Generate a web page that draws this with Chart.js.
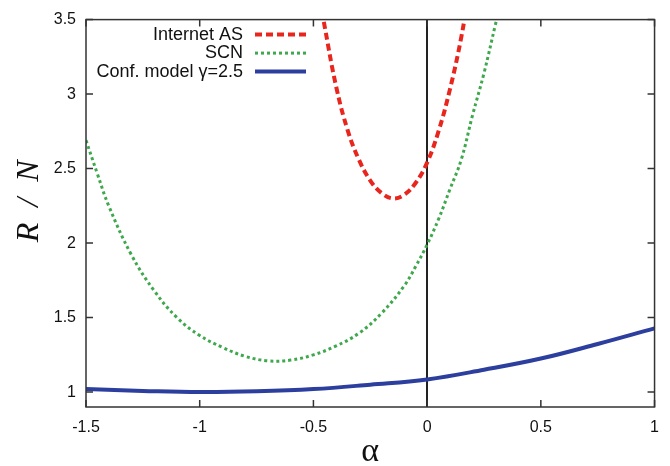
<!DOCTYPE html>
<html>
<head>
<meta charset="utf-8">
<script src="https://cdn.jsdelivr.net/npm/chart.js@4"></script>
<style>
  body { margin: 0; background: #fff; }
</style>
</head>
<body>
<canvas id="grafico" width="670" height="466"></canvas>
<script>
// values
var asAlpha = [-0.47, -0.45, -0.40, -0.35, -0.30, -0.25, -0.20, -0.15, -0.10, -0.05, 0.00, 0.05, 0.10, 0.15, 0.18];
var asValues = [3.63, 3.45, 3.05, 2.76, 2.56, 2.42, 2.335, 2.30, 2.325, 2.405, 2.54, 2.75, 3.03, 3.38, 3.66];

var scnAlpha = [-1.5, -1.45, -1.4, -1.3, -1.2, -1.1, -1.0, -0.9, -0.8, -0.7, -0.6, -0.5, -0.4, -0.3, -0.2, -0.1, -0.05, 0, 0.05, 0.1, 0.15, 0.2, 0.25, 0.3, 0.32];
var scnValues = [2.69, 2.465, 2.25, 1.92, 1.68, 1.50, 1.38, 1.30, 1.24, 1.21, 1.215, 1.25, 1.31, 1.395, 1.53, 1.715, 1.845, 1.99, 2.16, 2.36, 2.56, 2.86, 3.14, 3.465, 3.59];

var confAlpha = [-1.5, -1.25, -1.0, -0.75, -0.5, -0.25, 0, 0.25, 0.5, 0.75, 1.0];
var confValues = [1.02, 1.008, 1.0, 1.005, 1.02, 1.05, 1.085, 1.15, 1.225, 1.323, 1.428];

var seriesLabels = ["Internet AS", "SCN", "Conf. model \u03b3=2.5"];
var xTicks = [-1.5, -1, -0.5, 0, 0.5, 1];
var yTicks = [1, 1.5, 2, 2.5, 3, 3.5];

function pts(xs, ys) {
    return xs.map(function (x, i) { return { x: x, y: ys[i] }; });
}

var data = {
    datasets: [{
        label: seriesLabels[0],
        data: pts(asAlpha, asValues),
        borderColor: "#e8261d",
        borderWidth: 4,
        borderDash: [7, 4],
        tension: 0.4
    }, {
        label: seriesLabels[1],
        data: pts(scnAlpha, scnValues),
        borderColor: "#3ea84c",
        borderWidth: 3,
        borderDash: [3, 3],
        tension: 0.4
    }, {
        label: seriesLabels[2],
        data: pts(confAlpha, confValues),
        borderColor: "#2c3f9e",
        borderWidth: 4,
        tension: 0.4
    }]
};

// gnuplot look: closed frame, inward ticks on all four sides, key at top left
var framePlugin = {
    id: "frame",
    afterDatasetsDraw: function (chart) {
        var c = chart.ctx, a = chart.chartArea;
        var xs = chart.scales.x, ys = chart.scales.y;
        c.save();
        c.strokeStyle = "#333";
        c.lineWidth = 1.5;
        c.beginPath();
        xs.ticks.forEach(function (t) {
            var px = xs.getPixelForValue(t.value);
            c.moveTo(px, a.bottom); c.lineTo(px, a.bottom - 7);
            c.moveTo(px, a.top); c.lineTo(px, a.top + 7);
        });
        ys.ticks.forEach(function (t) {
            var py = ys.getPixelForValue(t.value);
            c.moveTo(a.left, py); c.lineTo(a.left + 7, py);
            c.moveTo(a.right, py); c.lineTo(a.right - 7, py);
        });
        c.stroke();
        c.strokeRect(a.left, a.top, a.right - a.left, a.bottom - a.top);

        // key
        c.font = "18px 'Liberation Sans', Arial, sans-serif";
        c.textAlign = "right";
        c.textBaseline = "middle";
        chart.data.datasets.forEach(function (ds, i) {
            var y = a.top + 15 + i * 18.5;
            c.fillStyle = "#111";
            c.fillText(ds.label, 243, y);
            c.strokeStyle = ds.borderColor;
            c.lineWidth = ds.borderWidth;
            c.setLineDash(ds.borderDash || []);
            c.beginPath();
            c.moveTo(255, y); c.lineTo(306, y);
            c.stroke();
            c.setLineDash([]);
        });
        c.restore();
    }
};

var tickFont = { family: "'Liberation Sans', Arial, sans-serif", size: 16 };

var options = {
    responsive: false,
    animation: false,
    devicePixelRatio: 1,
    layout: { padding: { top: 16, right: 14, left: 0, bottom: 0 } },
    elements: { point: { radius: 0 } },
    plugins: { legend: { display: false }, tooltip: { enabled: false } },
    scales: {
        x: {
            type: "linear",
            min: -1.5,
            max: 1,
            afterBuildTicks: function (s) { s.ticks = xTicks.map(function (v) { return { value: v }; }); },
            afterFit: function (s) { s.height = 59; },
            border: { display: false },
            grid: {
                drawTicks: false,
                lineWidth: 2,
                color: function (ctx) { return ctx.tick && ctx.tick.value === 0 ? "#222" : "rgba(0,0,0,0)"; }
            },
            ticks: { font: tickFont, color: "#111", padding: 11, maxRotation: 0, callback: function (v) { return String(v); } },
            title: {
                display: true,
                text: "\u03b1",
                font: { family: "'Liberation Serif', serif", size: 34 },
                color: "#111",
                padding: { top: 0, bottom: -6 }
            }
        },
        y: {
            type: "linear",
            min: 0.9,
            max: 3.5,
            afterBuildTicks: function (s) { s.ticks = yTicks.map(function (v) { return { value: v }; }); },
            afterFit: function (s) { s.width = 86; },
            border: { display: false },
            grid: { display: false, drawTicks: false },
            ticks: { font: tickFont, color: "#111", padding: 10, callback: function (v) { return String(v); } },
            title: {
                display: true,
                text: "   R  /  N",
                font: { family: "'Liberation Serif', serif", size: 32, style: "italic" },
                color: "#111",
                padding: { top: 10, bottom: 0 }
            }
        }
    }
};

var ctx = document.querySelector('#grafico').getContext('2d');
var lineChart = new Chart(ctx, {
    type: "line",
    data: data,
    options: options,
    plugins: [framePlugin]
});
</script>
</body>
</html>
